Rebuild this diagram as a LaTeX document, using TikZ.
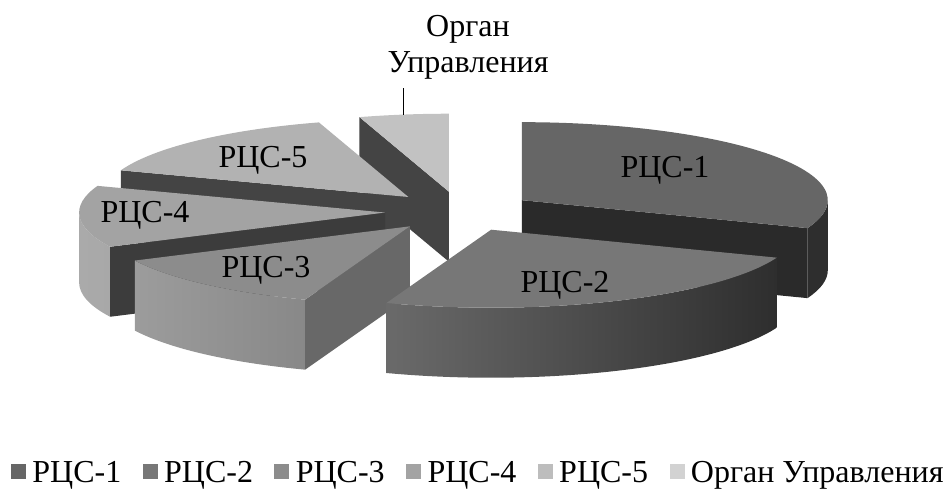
\documentclass[tikz,border=0pt]{standalone}
\usepackage{fontspec}
\setmainfont{Liberation Serif}
\usetikzlibrary{positioning,calc}
\definecolor{rc1}{HTML}{666666}
\definecolor{rc2}{HTML}{777777}
\definecolor{rc3}{HTML}{8C8C8C}
\definecolor{rc4}{HTML}{A3A3A3}
\definecolor{rc5}{HTML}{BDBDBD}
\definecolor{org}{HTML}{D2D2D2}
\definecolor{cut}{HTML}{444444}
\definecolor{top5}{HTML}{B2B2B2}
\definecolor{top6}{HTML}{C2C2C2}
\definecolor{dark1}{HTML}{2E2E2E}
\definecolor{cut1}{HTML}{2A2A2A}
\definecolor{cut3}{HTML}{686868}
\definecolor{cut4}{HTML}{3C3C3C}
\definecolor{side4a}{HTML}{AAAAAA}
\definecolor{side4b}{HTML}{979797}
\definecolor{side3a}{HTML}{9C9C9C}
\definecolor{side3b}{HTML}{7C7C7C}
\definecolor{side2a}{HTML}{6A6A6A}
\definecolor{side2b}{HTML}{3E3E3E}

\begin{document}
\begin{tikzpicture}[x=1pt,y=1pt,
pie/.style={x radius=306,y radius=78},
lbl/.style={font=\fontsize{32}{36}\selectfont,inner sep=0pt,anchor=base},
key/.style={minimum size=15pt,inner sep=0pt},
keytext/.style={font=\fontsize{32}{36}\selectfont,inner sep=0pt,text height=21pt,text depth=0pt},
]
\useasboundingbox (0,0) rectangle (949,488);

% slice centres (exploded)
\coordinate (pie) at (460,276.5);
\coordinate (c1) at ($(pie)+(34.5:75 and 20)$);
\coordinate (c2) at ($(pie)+(-65.5:75 and 20)$);
\coordinate (c3) at ($(pie)+(-132:75 and 20)$);
\coordinate (c4) at ($(pie)+(183:75 and 20)$);
\coordinate (c5) at ($(pie)+(133.5:75 and 20)$);
\coordinate (c6) at ($(pie)+(98.5:75 and 20)$);

% organ
\fill[cut] (c6) -- ++(107:306 and 78) -- ++(0,-70) -- ++(287:306 and 78) -- cycle;
\fill[top6] (c6) -- ++(90:306 and 78) arc[pie,start angle=90,end angle=107] -- cycle;

% rcs-5
\fill[cut] (c5) -- ++(160:306 and 78) -- ++(0,-70) -- ++(340:306 and 78) -- cycle;
\fill[top5] (c5) -- ++(107:306 and 78) arc[pie,start angle=107,end angle=160] -- cycle;

% rcs-1
\fill[dark1] (c1) ++(-21:306 and 78) arc[pie,start angle=-21,end angle=0] -- ++(0,-70) arc[pie,start angle=0,end angle=-21] -- cycle;
\fill[cut1] (c1) -- ++(-21:306 and 78) -- ++(0,-70) -- ++(159:306 and 78) -- cycle;
\fill[rc1] (c1) -- ++(-21:306 and 78) arc[pie,start angle=-21,end angle=90] -- cycle;

% rcs-4
\shade[left color=side4a,right color=side4b] (c4) ++(180:306 and 78) arc[pie,start angle=180,end angle=206] -- ++(0,-70) arc[pie,start angle=206,end angle=180] -- cycle;
\fill[cut4] (c4) -- ++(206:306 and 78) -- ++(0,-70) -- ++(26:306 and 78) -- cycle;
\fill[rc4] (c4) -- ++(160:306 and 78) arc[pie,start angle=160,end angle=206] -- cycle;

% rcs-3
\shade[left color=side3a,right color=side3b] (c3) ++(206:306 and 78) arc[pie,start angle=206,end angle=250] -- ++(0,-70) arc[pie,start angle=250,end angle=206] -- cycle;
\fill[cut3] (c3) -- ++(250:306 and 78) -- ++(0,-70) -- ++(70:306 and 78) -- cycle;
\fill[rc3] (c3) -- ++(206:306 and 78) arc[pie,start angle=206,end angle=250] -- cycle;

% rcs-2
\shade[left color=side2a,middle color=side2b,right color=dark1] (c2) ++(-110:306 and 78) arc[pie,start angle=-110,end angle=-21] -- ++(0,-70) arc[pie,start angle=-21,end angle=-110] -- cycle;
\fill[rc2] (c2) -- ++(-110:306 and 78) arc[pie,start angle=-110,end angle=-21] -- cycle;

% labels
\node[lbl] (l1) at (665,311) {РЦС-1};
\node[lbl] (l2) at (565,196) {РЦС-2};
\node[lbl] (l3) at (266,211) {РЦС-3};
\node[lbl] (l4) at (145,266) {РЦС-4};
\node[lbl] (l5) at (263,320) {РЦС-5};
\node[lbl,align=center] (l6) at (468,415) {Орган\\Управления};
\coordinate (lead) at ($(c6)+(98.5:306 and 78)$);
\coordinate (leadtop) at ($(lead)+(0,27)$);
\draw[semithick] (lead) -- (leadtop);

% legend
\node[key,fill=rc1] (k1) at (18.5,16.5) {};
\node[keytext,right=6pt of k1] (t1) {РЦС-1};
\node[key,fill=rc2,right=21pt of t1] (k2) {};
\node[keytext,right=6pt of k2] (t2) {РЦС-2};
\node[key,fill=rc3,right=21pt of t2] (k3) {};
\node[keytext,right=6pt of k3] (t3) {РЦС-3};
\node[key,fill=rc4,right=21pt of t3] (k4) {};
\node[keytext,right=6pt of k4] (t4) {РЦС-4};
\node[key,fill=rc5,right=21pt of t4] (k5) {};
\node[keytext,right=6pt of k5] (t5) {РЦС-5};
\node[key,fill=org,right=21pt of t5] (k6) {};
\node[keytext,right=6pt of k6] (t6) {Орган Управления};
\end{tikzpicture}
\end{document}
